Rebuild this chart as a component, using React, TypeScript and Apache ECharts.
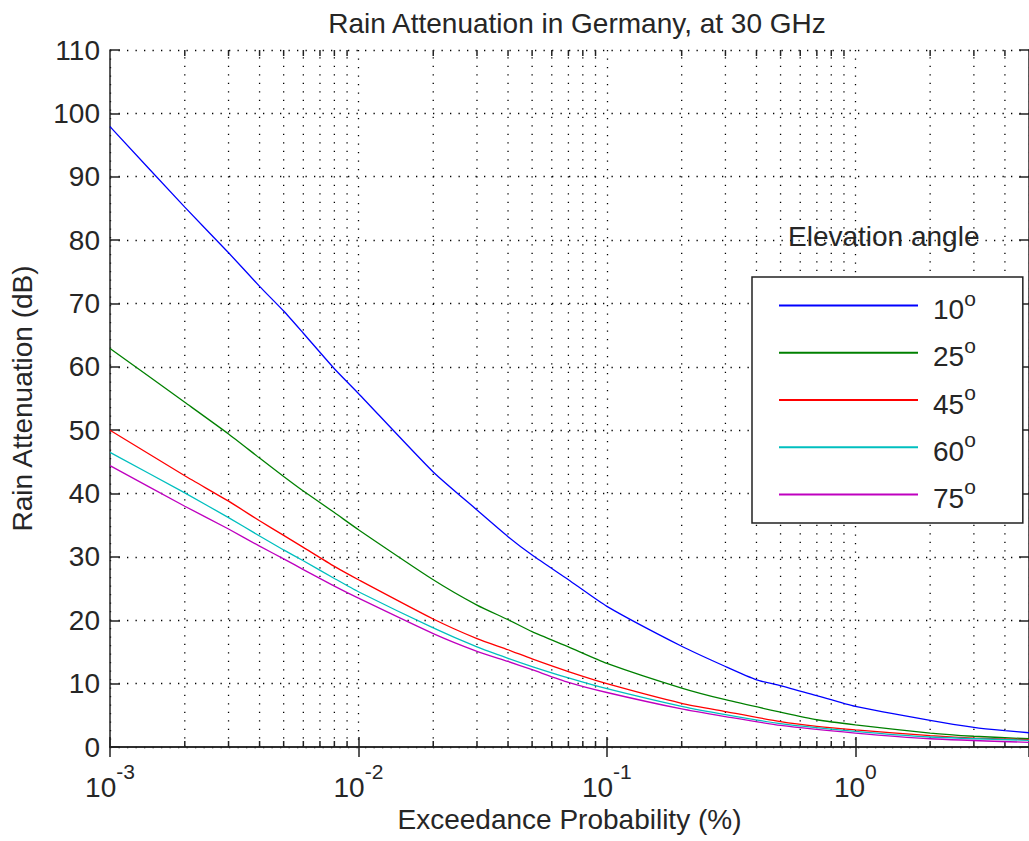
import React, { useEffect, useRef } from "react";
import * as echarts from "echarts";

const FONT = "'Liberation Sans', Arial, Helvetica, sans-serif";
const TEXT = "#262626";
const AXIS = "#222222";

const chartTitle = "Rain Attenuation in Germany, at 30 GHz";
const xAxisName = "Exceedance Probability (%)";
const yAxisName = "Rain Attenuation (dB)";
const legendTitle = "Elevation angle";

const angles = ["10", "25", "45", "60", "75"];
const colors = ["#0000FF", "#008000", "#FF0000", "#00BFBF", "#BF00BF"];

const xMin = 0.001;
const xMax = 5;
const yMin = 0;
const yMax = 110;
const yStep = 10;

const minorX = [
  0.002, 0.003, 0.004, 0.005, 0.006, 0.007, 0.008, 0.009,
  0.02, 0.03, 0.04, 0.05, 0.06, 0.07, 0.08, 0.09,
  0.2, 0.3, 0.4, 0.5, 0.6, 0.7, 0.8, 0.9,
  2, 3, 4,
];

// 10 deg
const p10 = [0.001, 0.002, 0.003, 0.004, 0.005, 0.006, 0.008, 0.01, 0.02, 0.03, 0.04, 0.05, 0.07, 0.1, 0.2, 0.3, 0.4, 0.5, 0.7, 1, 2, 3, 4, 5];
const a10 = [97.9, 85.2, 78.0, 72.7, 68.8, 65.3, 59.7, 55.8, 43.4, 37.4, 33.2, 30.3, 26.4, 22.2, 15.9, 12.7, 10.6, 9.7, 8.1, 6.4, 4.2, 3.1, 2.57, 2.25];
// 25 deg
const p25 = [0.001, 0.002, 0.003, 0.004, 0.005, 0.006, 0.008, 0.01, 0.02, 0.03, 0.04, 0.05, 0.07, 0.1, 0.2, 0.3, 0.5, 0.7, 1, 2, 3, 5];
const a25 = [62.9, 54.4, 49.4, 45.6, 42.7, 40.4, 37.0, 34.3, 26.4, 22.4, 20.1, 18.2, 15.8, 13.2, 9.3, 7.46, 5.5, 4.3, 3.5, 2.2, 1.7, 1.3];
// 45 deg
const p45 = [0.001, 0.002, 0.003, 0.004, 0.005, 0.006, 0.008, 0.01, 0.02, 0.03, 0.04, 0.05, 0.07, 0.1, 0.2, 0.3, 0.5, 0.7, 1, 2, 3, 5];
const a45 = [50.0, 42.8, 38.8, 35.7, 33.4, 31.5, 28.5, 26.4, 20.2, 17.1, 15.35, 13.9, 11.9, 10.0, 6.9, 5.6, 4.0, 3.25, 2.7, 1.8, 1.4, 1.15];
// 60 deg
const p60 = [0.001, 0.002, 0.003, 0.004, 0.005, 0.006, 0.008, 0.01, 0.02, 0.03, 0.04, 0.05, 0.07, 0.1, 0.2, 0.3, 0.5, 1, 2, 5];
const a60 = [46.5, 40.1, 36.2, 33.3, 31.1, 29.4, 26.6, 24.5, 18.8, 15.8, 14.0, 12.7, 10.9, 9.2, 6.4, 5.1, 3.7, 2.46, 1.58, 1.05];
// 75 deg
const p75 = [0.001, 0.002, 0.003, 0.004, 0.005, 0.006, 0.008, 0.01, 0.02, 0.03, 0.04, 0.05, 0.07, 0.1, 0.2, 0.3, 0.5, 1, 2, 5];
const a75 = [44.4, 38.0, 34.4, 31.7, 29.7, 28.0, 25.4, 23.5, 17.9, 15.1, 13.5, 12.2, 10.2, 8.6, 6.0, 4.8, 3.4, 2.2, 1.3, 0.73];

const seriesX = [p10, p25, p45, p60, p75];
const seriesY = [a10, a25, a45, a60, a75];

const DOT = [1.3, 7.2];

export default function App() {
  const ref = useRef<HTMLDivElement>(null);

  useEffect(() => {
    if (!ref.current) return;
    const chart = echarts.init(ref.current, undefined, { renderer: "svg" });

    const lineSeries = angles.map((name, i) => ({
      type: "line",
      name,
      data: seriesX[i].map((x, j) => [x, seriesY[i][j]]),
      symbol: "none",
      showSymbol: false,
      smooth: 0.2,
      lineStyle: { color: colors[i], width: 1.3 },
      itemStyle: { color: colors[i] },
      z: 5,
      silent: true,
    }));

    const minorSeries = {
      type: "custom",
      data: minorX.map((v) => [v, 0]),
      z: 1,
      silent: true,
      clip: false,
      renderItem: (params: any, api: any) => {
        const v = api.value(0);
        const b = api.coord([v, yMin]);
        const t = api.coord([v, yMax]);
        return {
          type: "group",
          children: [
            {
              type: "line",
              shape: { x1: b[0], y1: b[1], x2: t[0], y2: t[1] },
              style: { stroke: "#000", lineWidth: 1.3, lineDash: DOT },
            },
            {
              type: "line",
              shape: { x1: b[0], y1: b[1], x2: b[0], y2: b[1] - 6 },
              style: { stroke: AXIS, lineWidth: 1.5 },
            },
            {
              type: "line",
              shape: { x1: t[0], y1: t[1], x2: t[0], y2: t[1] + 6 },
              style: { stroke: AXIS, lineWidth: 1.5 },
            },
          ],
        };
      },
    };

    const tickLabel = {
      color: TEXT,
      fontFamily: FONT,
      fontSize: 28,
    };

    chart.setOption({
      animation: false,
      backgroundColor: "#ffffff",
      textStyle: { fontFamily: FONT },
      grid: { left: 110, top: 50, width: 922, height: 697 },
      xAxis: [
        {
          type: "log",
          logBase: 10,
          min: xMin,
          max: xMax,
          position: "bottom",
          name: xAxisName,
          nameLocation: "middle",
          nameGap: 58,
          nameTextStyle: { ...tickLabel },
          axisLine: { show: true, lineStyle: { color: AXIS, width: 1.5 } },
          axisTick: { show: true, inside: true, length: 10, lineStyle: { color: AXIS, width: 1.5 } },
          splitLine: { show: true, lineStyle: { color: "#000", width: 1.3, type: DOT } },
          axisLabel: {
            margin: 14,
            showMaxLabel: false,
            formatter: (v: number) => {
              const e = Math.round(Math.log10(v));
              return `{b|10}{e|${e}}`;
            },
            rich: {
              b: { ...tickLabel, fontSize: 28, lineHeight: 40, verticalAlign: "bottom" },
              e: { ...tickLabel, fontSize: 21, lineHeight: 40, verticalAlign: "top" },
            },
          },
        },
        {
          type: "log",
          logBase: 10,
          min: xMin,
          max: xMax,
          position: "top",
          axisLine: { show: true, lineStyle: { color: AXIS, width: 1.5 } },
          axisTick: { show: true, inside: true, length: 10, lineStyle: { color: AXIS, width: 1.5 } },
          splitLine: { show: false },
          axisLabel: { show: false },
        },
      ],
      yAxis: [
        {
          type: "value",
          min: yMin,
          max: yMax,
          interval: yStep,
          position: "left",
          name: yAxisName,
          nameLocation: "middle",
          nameGap: 74,
          nameRotate: 90,
          nameTextStyle: { ...tickLabel },
          axisLine: { show: true, lineStyle: { color: AXIS, width: 1.5 } },
          axisTick: { show: true, inside: true, length: 10, lineStyle: { color: AXIS, width: 1.5 } },
          splitLine: { show: true, lineStyle: { color: "#000", width: 1.3, type: DOT } },
          axisLabel: { ...tickLabel, margin: 10 },
        },
        {
          type: "value",
          min: yMin,
          max: yMax,
          interval: yStep,
          position: "right",
          axisLine: { show: true, lineStyle: { color: AXIS, width: 1.5 } },
          axisTick: { show: true, inside: true, length: 10, lineStyle: { color: AXIS, width: 1.5 } },
          splitLine: { show: false },
          axisLabel: { show: false },
        },
      ],
      legend: {
        show: true,
        orient: "vertical",
        left: 752,
        top: 277,
        data: angles,
        itemWidth: 139,
        itemHeight: 36,
        itemGap: 11.2,
        padding: [10.6, 47, 10.6, 26],
        backgroundColor: "#ffffff",
        borderColor: AXIS,
        borderWidth: 1.5,
        borderRadius: 0,
        selectedMode: false,
        itemStyle: { opacity: 0 },
        formatter: (name: string) => `{n|${name}}{s|o}`,
        textStyle: {
          color: TEXT,
          fontFamily: FONT,
          padding: [0, 0, 0, 10],
          rich: {
            n: { color: TEXT, fontFamily: FONT, fontSize: 28, lineHeight: 36, verticalAlign: "bottom" },
            s: { color: TEXT, fontFamily: FONT, fontSize: 21, lineHeight: 36, verticalAlign: "top" },
          },
        },
      },
      graphic: [
        {
          type: "text",
          x: 577,
          y: 23,
          style: {
            text: chartTitle,
            fill: TEXT,
            font: `28px ${FONT}`,
            textAlign: "center",
            textVerticalAlign: "middle",
          },
          z: 10,
        },
        {
          type: "text",
          x: 788,
          y: 236,
          style: {
            text: legendTitle,
            fill: TEXT,
            font: `28px ${FONT}`,
            textAlign: "left",
            textVerticalAlign: "middle",
          },
          z: 10,
        },
      ],
      series: [minorSeries, ...lineSeries],
    });

    return () => chart.dispose();
  }, []);

  return (
    <div
      ref={ref}
      style={{ position: "fixed", left: 0, top: 0, width: 1029, height: 841, background: "#fff" }}
    />
  );
}
